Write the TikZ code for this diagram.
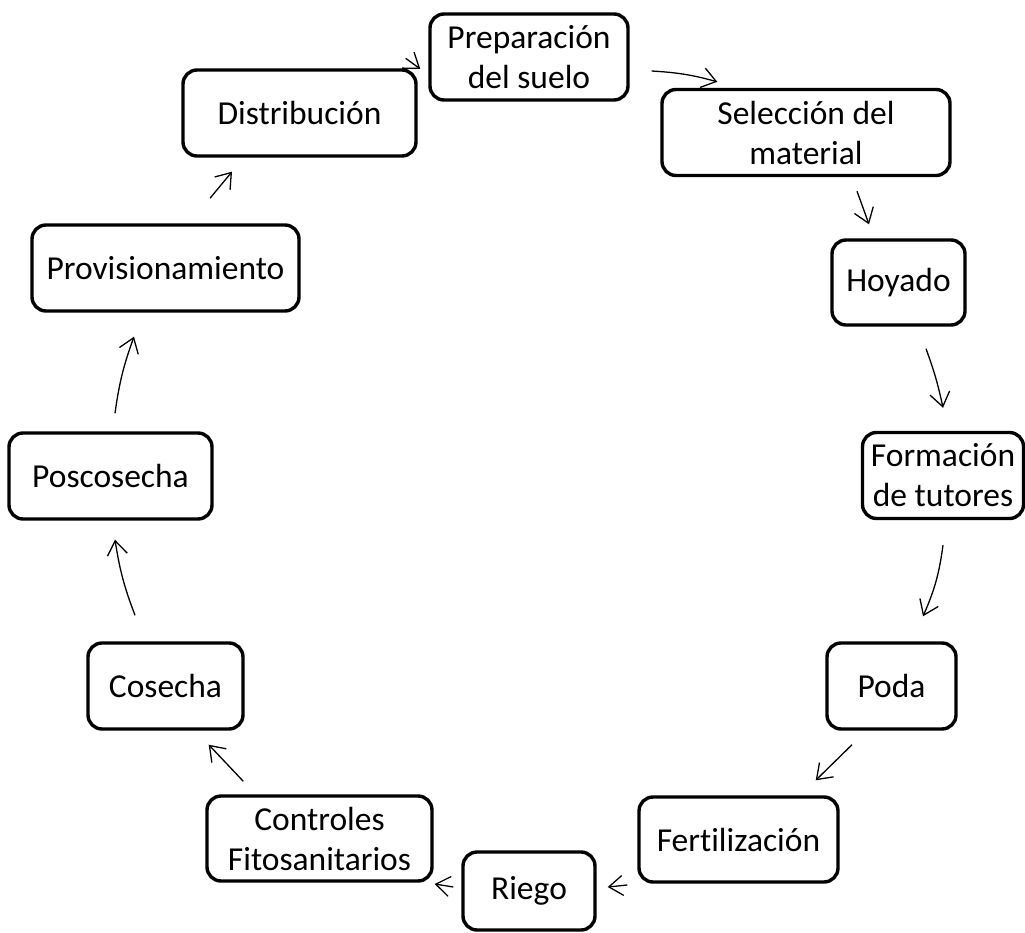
\documentclass[tikz,border=0pt]{standalone}
\usepackage{fontspec}
\setmainfont{Carlito}[Ligatures=NoCommon]
\usetikzlibrary{arrows.meta}
\usetikzlibrary{calc}
\tikzset{
  stepbox/.style={draw,line width=3.4pt,rounded corners=14pt,inner sep=0pt,
    minimum height=86pt,align=center,font=\fontsize{33.5}{40}\selectfont},
  flow/.style={line width=1.3pt,-{Straight Barb[length=14pt,width=20pt]}}
}

\begin{document}
\begin{tikzpicture}[x=1pt,y=-1pt]
    \useasboundingbox (0,0) rectangle (1025,933);

    \node[stepbox,minimum width=198pt] (prep) at (529,57) {Preparación\\del suelo};
    \node[stepbox,minimum width=288pt] (sel) at (806,132.5) {Selección del\\material};
    \node[stepbox,minimum width=133pt,minimum height=85pt] (hoy) at (898.5,282.5) {Hoyado};
    \node[stepbox,minimum width=161pt] (form) at (943,475.5) {Formación\\de tutores};
    \node[stepbox,minimum width=129pt] (poda) at (891.5,686) {Poda};
    \node[stepbox,minimum width=199pt,minimum height=85pt] (fert) at (738.5,839.5) {Fertilización};
    \node[stepbox,minimum width=132pt,minimum height=78pt] (riego) at (529,891) {Riego};
    \node[stepbox,minimum width=225pt,minimum height=85pt] (contr) at (319.5,838.5) {Controles\\Fitosanitarios};
    \node[stepbox,minimum width=155pt] (cos) at (165.5,686) {Cosecha};
    \node[stepbox,minimum width=203pt] (posc) at (110.5,476) {Poscosecha};
    \node[stepbox,minimum width=267pt] (prov) at (165.5,268) {Provisionamiento};
    \node[stepbox,minimum width=233pt] (dist) at (299.5,113) {Distribución};

    % arrows of the cycle
    \foreach \a/\p/\b/\q/\bnd in {
        dist.north east/{-12,-10}/prep.west/{-8,12}/0,
        prep.east/{22,14}/sel.north west/{57,-6}/6,
        sel.south/{51,14}/hoy.north/{-29.5,-14}/0,
        hoy.south/{27.5,22}/form.north/{0,-23}/4,
        form.south/{0,25}/poda.north/{31.5,-25}/8,
        poda.south/{-39.5,14}/fert.north east/{-24,-15}/0,
        fert.west/{-10,45.5}/riego.east/{11,-4}/0,
        riego.west/{-8,-4}/contr.east/{1,45.5}/0,
        contr.north west/{38,-13}/cos.south east/{-36,14}/0,
        cos.north/{-30.5,-26}/posc.south/{4.5,19}/6,
        posc.north/{4.5,-18}/prov.south/{-31.5,24}/6,
        prov.north/{44.5,-25}/dist.south/{-67.5,14}/0}
      \draw[flow] ($(\a)+(\p)$) to[bend left=\bnd] ($(\b)+(\q)$);
\end{tikzpicture}
\end{document}
